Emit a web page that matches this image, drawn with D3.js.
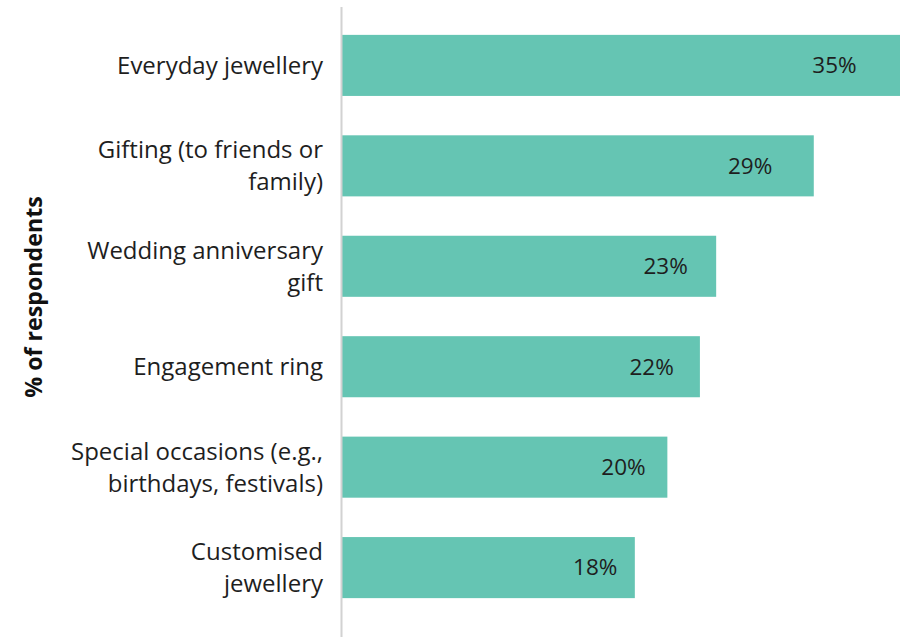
<!DOCTYPE html>
<html>
<head>
<meta charset="utf-8">
<script src="https://cdn.jsdelivr.net/npm/d3@7"></script>
<style>
  html, body { margin: 0; padding: 0; background: #fff; }
  svg { display: block; font-family: "Open Sans", sans-serif; }
</style>
</head>
<body>
<svg id="chart" width="900" height="637"></svg>
<script>
// Purchase occasions, share of respondents (%)
const categories = [
  ["Everyday jewellery"],
  ["Gifting (to friends or", "family)"],
  ["Wedding anniversary", "gift"],
  ["Engagement ring"],
  ["Special occasions (e.g.,", "birthdays, festivals)"],
  ["Customised", "jewellery"]
];
const values = [35, 29, 23, 22, 20, 18];
const valueLabels = ["35%", "29%", "23%", "22%", "20%", "18%"];
const axisTitle = "% of respondents";

const W = 900, H = 637;
const x0 = 342;
const svg = d3.select("#chart");

const keys = categories.map((c, i) => i);
const y = d3.scaleBand().domain(keys).range([-4.5, 637.5]).padding(0.392);
const x = d3.scaleLinear().domain([0, 34.3]).range([x0, W]);

// bars
svg.append("g").selectAll("rect")
  .data(values)
  .join("rect")
  .attr("x", x(0))
  .attr("y", (d, i) => y(i))
  .attr("width", d => x(d) - x(0))
  .attr("height", y.bandwidth())
  .attr("fill", "#65c5b3");

// value labels inside the bars
svg.append("g").selectAll("text")
  .data(values)
  .join("text")
  .attr("x", d => x(0) + (x(d) - x(0)) * 0.865)
  .attr("y", (d, i) => y(i) + y.bandwidth() / 2)
  .attr("dy", "0.35em")
  .attr("text-anchor", "middle")
  .attr("font-size", 22.5)
  .attr("fill", "#1e1e1e")
  .text((d, i) => valueLabels[i]);

// category axis line
svg.append("line")
  .attr("x1", 341.5).attr("x2", 341.5)
  .attr("y1", 7).attr("y2", H)
  .attr("stroke", "#d2d2d2")
  .attr("stroke-width", 2);

// category labels
const lineH = 32;
const lab = svg.append("g").selectAll("text")
  .data(categories)
  .join("text")
  .attr("text-anchor", "end")
  .attr("font-size", 24)
  .attr("fill", "#1e1e1e")
  .attr("transform", (d, i) => `translate(323,${y(i) + y.bandwidth() / 2})`);
lab.each(function(lines) {
  const t = d3.select(this);
  const off = -(lines.length - 1) * lineH / 2;
  lines.forEach((ln, j) => {
    t.append("tspan")
      .attr("x", 0)
      .attr("y", off + j * lineH)
      .attr("dy", "0.35em")
      .text(ln);
  });
});

// axis title
svg.append("text")
  .attr("transform", "translate(34,297) rotate(-90)")
  .attr("text-anchor", "middle")
  .attr("dy", "0.35em")
  .attr("font-size", 23.2)
  .attr("font-weight", "bold")
  .attr("fill", "#111")
  .text(axisTitle);
</script>
</body>
</html>
